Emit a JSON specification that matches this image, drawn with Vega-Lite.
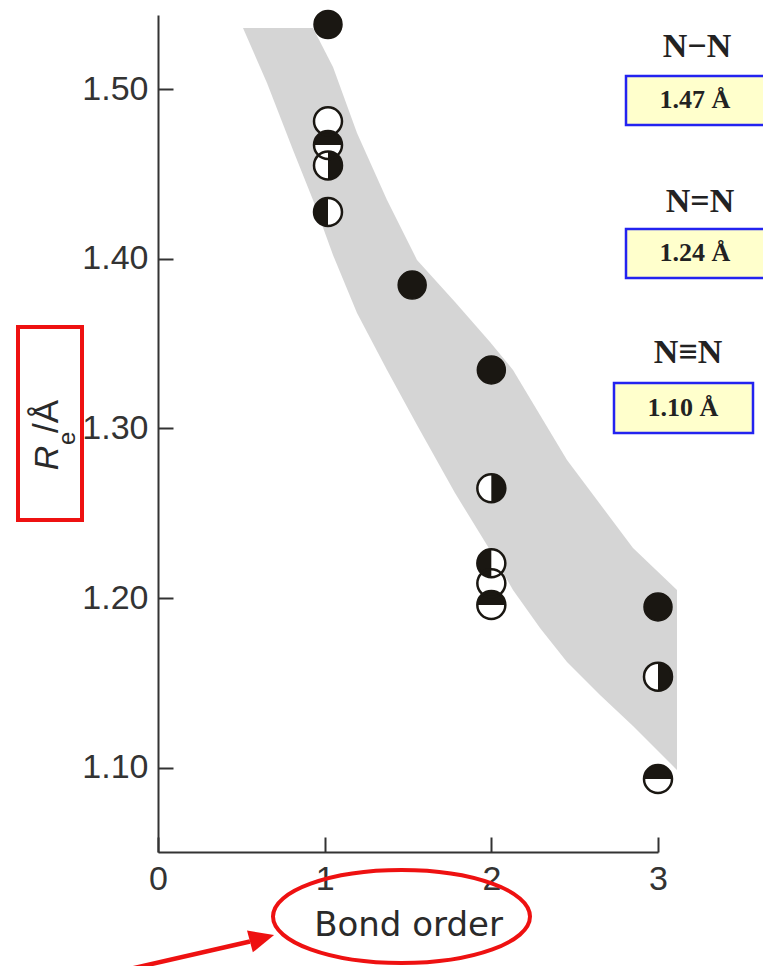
{
  "$schema": "https://vega.github.io/schema/vega-lite/v6.json",
  "width": 500,
  "height": 837,
  "autosize": {"type": "none"},
  "padding": {"left": 158, "top": 15, "right": 105, "bottom": 114},
  "background": "white",
  "config": {"view": {"stroke": null}},
  "datasets": {
    "band": [
      {"x": 0.510, "y": 1.5359, "lo": 1.5359},
      {"x": 0.654, "y": 1.5359, "lo": 1.5035},
      {"x": 0.810, "y": 1.5359, "lo": 1.4641},
      {"x": 0.930, "y": 1.5359, "lo": 1.4346},
      {"x": 1.050, "y": 1.5130, "lo": 1.4022},
      {"x": 1.194, "y": 1.4741, "lo": 1.3681},
      {"x": 1.374, "y": 1.4346, "lo": 1.3345},
      {"x": 1.554, "y": 1.3993, "lo": 1.3021},
      {"x": 1.782, "y": 1.3745, "lo": 1.2620},
      {"x": 1.992, "y": 1.3510, "lo": 1.2284},
      {"x": 2.130, "y": 1.3345, "lo": 1.2049},
      {"x": 2.292, "y": 1.3080, "lo": 1.1825},
      {"x": 2.454, "y": 1.2815, "lo": 1.1625},
      {"x": 2.652, "y": 1.2555, "lo": 1.1430},
      {"x": 2.850, "y": 1.2296, "lo": 1.1248},
      {"x": 3.114, "y": 1.2049, "lo": 1.0988}
    ],
    "points": [
      {"x": 1.02, "y": 1.538, "symbol": "filled"},
      {"x": 1.02, "y": 1.481, "symbol": "open"},
      {"x": 1.02, "y": 1.467, "symbol": "top"},
      {"x": 1.02, "y": 1.455, "symbol": "right"},
      {"x": 1.02, "y": 1.4275, "symbol": "left"},
      {"x": 1.525, "y": 1.3845, "symbol": "filled"},
      {"x": 2.0, "y": 1.3345, "symbol": "filled"},
      {"x": 2.0, "y": 1.2648, "symbol": "right"},
      {"x": 2.0, "y": 1.2206, "symbol": "left"},
      {"x": 2.0, "y": 1.2088, "symbol": "open"},
      {"x": 2.0, "y": 1.196, "symbol": "top"},
      {"x": 3.0, "y": 1.1949, "symbol": "filled"},
      {"x": 3.0, "y": 1.1538, "symbol": "right"},
      {"x": 3.0, "y": 1.0935, "symbol": "top"}
    ],
    "boxes": [
      {"x": 2.808, "x2": 3.672, "y": 1.5077, "y2": 1.4788},
      {"x": 2.808, "x2": 3.672, "y": 1.4175, "y2": 1.3887},
      {"x": 2.736, "x2": 3.570, "y": 1.3268, "y2": 1.2974}
    ],
    "boxtext": [
      {"x": 3.222, "y": 1.4935, "t": "1.47 Å"},
      {"x": 3.222, "y": 1.4034, "t": "1.24 Å"},
      {"x": 3.150, "y": 1.3121, "t": "1.10 Å"}
    ],
    "bondlabels": [
      {"x": 3.234, "y": 1.5247, "t": "N−N"},
      {"x": 3.252, "y": 1.4334, "t": "N=N"},
      {"x": 3.180, "y": 1.3445, "t": "N≡N"}
    ],
    "redbox": [{"x": -0.84, "x2": -0.456, "y": 1.3598, "y2": 1.2461}],
    "ellipse": [{"x": 1.461, "y": 1.0125}],
    "arrowline": [{"x": -0.168, "y": 0.9816, "x2": 0.552, "y2": 0.9978}],
    "arrowhead": [{"x": 0.624, "y": 0.9997}],
    "ytR": [{"x": -0.6, "y": 1.2826, "t": "R"}],
    "ytE": [{"x": -0.498, "y": 1.2903, "t": "e"}],
    "ytA": [{"x": -0.6, "y": 1.2974, "t": "/Å"}]
  },
  "encoding": {
    "x": {
      "field": "x", "type": "quantitative",
      "scale": {"domain": [0, 3], "nice": false, "zero": false},
      "axis": {
        "values": [0, 1, 2, 3], "title": "Bond order", "grid": false,
        "labelFont": "Liberation Sans", "labelFontSize": 34, "labelColor": "#333333",
        "labelFlush": false, "labelOverlap": false,
        "tickSize": -15, "labelPadding": 25, "tickColor": "#333333", "tickWidth": 2,
        "domainColor": "#333333", "domainWidth": 2,
        "titleFont": "DejaVu Sans", "titleFontSize": 34, "titleFontWeight": "normal",
        "titleColor": "#2a2a2a", "titlePadding": 12
      }
    },
    "y": {
      "field": "y", "type": "quantitative",
      "scale": {"domain": [1.0505, 1.5436], "nice": false, "zero": false},
      "axis": {
        "values": [1.1, 1.2, 1.3, 1.4, 1.5], "format": ".2f", "title": null, "grid": false,
        "labelFont": "Liberation Sans", "labelFontSize": 34, "labelColor": "#333333",
        "labelFlush": false, "labelOverlap": false,
        "tickSize": -15, "labelPadding": 25, "tickColor": "#333333", "tickWidth": 2,
        "domainColor": "#333333", "domainWidth": 2
      }
    }
  },
  "layer": [
    {
      "data": {"name": "band"},
      "mark": {"type": "area", "fill": "#d0d0d0", "opacity": 0.9},
      "encoding": {"y2": {"field": "lo"}}
    },
    {
      "data": {"name": "boxes"},
      "mark": {"type": "rect", "fill": "#ffffcc", "stroke": "#2323f0", "strokeWidth": 2.5},
      "encoding": {"x2": {"field": "x2"}, "y2": {"field": "y2"}}
    },
    {
      "data": {"name": "boxtext"},
      "mark": {"type": "text", "font": "Liberation Serif", "fontWeight": "bold", "fontSize": 26, "color": "#222222", "align": "center", "baseline": "middle"},
      "encoding": {"text": {"field": "t"}}
    },
    {
      "data": {"name": "bondlabels"},
      "mark": {"type": "text", "font": "Liberation Serif", "fontWeight": "bold", "fontSize": 34, "color": "#222222", "align": "center", "baseline": "middle"},
      "encoding": {"text": {"field": "t"}}
    },
    {
      "data": {"name": "points"},
      "transform": [{"filter": "datum.symbol !== 'filled'"}],
      "mark": {"type": "point", "shape": "circle", "filled": true, "fill": "white", "opacity": 1, "size": 784, "strokeWidth": 0}
    },
    {
      "data": {"name": "points"},
      "transform": [{"filter": "datum.symbol === 'left'"}],
      "mark": {"type": "point", "shape": "M 0 -1 A 1 1 0 0 0 0 1 Z", "filled": true, "fill": "#1a1712", "opacity": 1, "size": 784, "strokeWidth": 0}
    },
    {
      "data": {"name": "points"},
      "transform": [{"filter": "datum.symbol === 'right'"}],
      "mark": {"type": "point", "shape": "M 0 -1 A 1 1 0 0 1 0 1 Z", "filled": true, "fill": "#1a1712", "opacity": 1, "size": 784, "strokeWidth": 0}
    },
    {
      "data": {"name": "points"},
      "transform": [{"filter": "datum.symbol === 'top'"}],
      "mark": {"type": "point", "shape": "M -1 0 A 1 1 0 0 1 1 0 Z", "filled": true, "fill": "#1a1712", "opacity": 1, "size": 784, "strokeWidth": 0}
    },
    {
      "data": {"name": "points"},
      "transform": [{"filter": "datum.symbol !== 'filled'"}],
      "mark": {"type": "point", "shape": "circle", "filled": false, "stroke": "#1a1712", "opacity": 1, "size": 784, "strokeWidth": 2.5}
    },
    {
      "data": {"name": "points"},
      "transform": [{"filter": "datum.symbol === 'filled'"}],
      "mark": {"type": "point", "shape": "circle", "filled": true, "fill": "#1a1712", "stroke": "#1a1712", "opacity": 1, "size": 784, "strokeWidth": 1.5}
    },
    {
      "data": {"name": "redbox"},
      "mark": {"type": "rect", "fillOpacity": 0, "stroke": "#ee1111", "strokeWidth": 4},
      "encoding": {"x2": {"field": "x2"}, "y2": {"field": "y2"}}
    },
    {
      "data": {"name": "ellipse"},
      "mark": {"type": "point", "shape": "M -1 0 A 1 0.362 0 1 0 1 0 A 1 0.362 0 1 0 -1 0 Z", "filled": false, "stroke": "#ee1111", "strokeWidth": 4, "opacity": 1, "size": 66049}
    },
    {
      "data": {"name": "arrowline"},
      "mark": {"type": "rule", "color": "#ee1111", "strokeWidth": 4.5},
      "encoding": {"x2": {"field": "x2"}, "y2": {"field": "y2"}}
    },
    {
      "data": {"name": "arrowhead"},
      "mark": {"type": "point", "shape": "M 1 0 L -1 -0.9 L -1 0.9 Z", "filled": true, "fill": "#ee1111", "opacity": 1, "size": 625, "angle": 345, "strokeWidth": 0}
    },
    {
      "data": {"name": "ytR"},
      "mark": {"type": "text", "angle": 270, "align": "center", "baseline": "alphabetic", "font": "Liberation Sans", "fontStyle": "italic", "fontSize": 34, "color": "#2a2a2a"},
      "encoding": {"text": {"field": "t"}}
    },
    {
      "data": {"name": "ytE"},
      "mark": {"type": "text", "angle": 270, "align": "left", "baseline": "alphabetic", "font": "Liberation Sans", "fontSize": 24, "color": "#2a2a2a"},
      "encoding": {"text": {"field": "t"}}
    },
    {
      "data": {"name": "ytA"},
      "mark": {"type": "text", "angle": 270, "align": "left", "baseline": "alphabetic", "font": "Liberation Sans", "fontSize": 35, "color": "#2a2a2a"},
      "encoding": {"text": {"field": "t"}}
    }
  ]
}
